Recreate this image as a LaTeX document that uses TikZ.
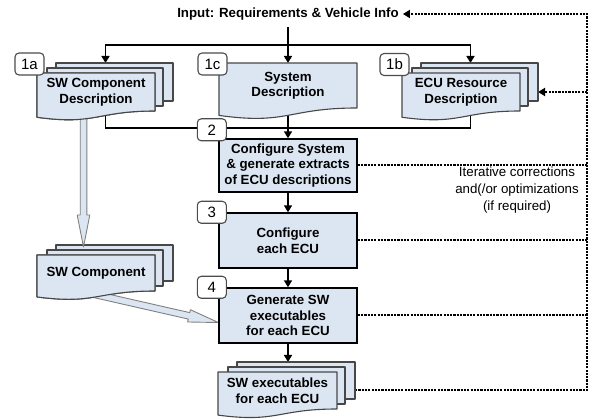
\documentclass[tikz,border=0pt]{standalone}
\usepackage{fontspec}
\setmainfont{Liberation Sans}
\usetikzlibrary{arrows.meta,calc}
\pgfdeclarelayer{background}
\pgfsetlayers{background,main}
\definecolor{paneblue}{RGB}{220,230,242}
\tikzset{
	txt/.style={font=\bfseries\fontsize{13.3}{15.5}\selectfont, align=center, inner sep=0pt},
	docnode/.style={txt, outer sep=0pt},
	docfront/.style={fill=paneblue, draw=black!72, line width=1.1pt, line join=round},
	stepbox/.style={txt, fill=paneblue, draw=black, line width=1.4pt, minimum width=138pt},
	tag/.style={draw=black!70, fill=white, rounded corners=4pt, line width=1.1pt, minimum width=29pt, minimum height=22pt, inner sep=0pt, font=\fontsize{15}{15}\selectfont},
	flow/.style={line width=1.6pt},
	fb/.style={line width=2pt, dash pattern=on 2.2pt off 1.1pt},
	fat/.style={fill=paneblue, draw=black!50, line width=0.9pt, line join=round}
}
\newcommand{\docshape}[1]{%
	\draw[docfront] (#1.north west) -- (#1.north east) -- (#1.south east)
		.. controls (#1.south) and ($(#1.south)!-0.38!(#1.north)$) ..
		($(#1.south west)!-0.165!(#1.north west)$) -- cycle;}
\newcommand{\docsheets}[1]{%
	\draw[docfront] ($(#1.north west)+(19,-10)$) rectangle ($(#1.south east)+(18,-10)$);
	\draw[docfront] ($(#1.north west)+(10,-5)$) rectangle ($(#1.south east)+(8,-5)$);}
\newcommand{\sheetmarks}[1]{%
	\coordinate (#1-back) at ($(#1.north)+(9.5,-10)$);
	\coordinate (#1-b3) at ($(#1.north east)+(18,-10)$);}
\newcommand{\fatarrow}[3]{%
	\coordinate (fa-h) at ($(#2)!#3!(#1)$);
	\filldraw[fat] ($(#1)!3.3pt!90:(#2)$) -- ($(fa-h)!3.3pt!90:(#2)$) -- ($(fa-h)!6.3pt!90:(#2)$) -- (#2)
		-- ($(fa-h)!6.3pt!-90:(#2)$) -- ($(fa-h)!3.3pt!-90:(#2)$) -- ($(#1)!3.3pt!-90:(#2)$) -- cycle;}
\begin{document}
\begin{tikzpicture}[x=1pt, y=-1pt, >={Triangle[length=7pt,width=8pt]}]
	\useasboundingbox (0,0) rectangle (597,419);
	\node[txt, inner xsep=4pt, inner ysep=7pt] (input) at (288,14) {Input: Requirements \& Vehicle Info};
	\node[docnode, minimum width=118pt, minimum height=38pt] (swcd) at (96,92) {SW Component\\Description};
	\node[docnode, minimum width=138pt, minimum height=45pt] (sysd) at (288,85.5) {System\\Description};
	\node[docnode, minimum width=118pt, minimum height=38pt] (ecud) at (461,92) {ECU Resource\\Description};
	\node[stepbox, minimum height=53pt] (cfgsys) at (288,165.5) {Configure System\\\& generate extracts\\of ECU descriptions};
	\node[stepbox, minimum height=55pt] (cfgecu) at (288,240.5) {Configure\\each ECU};
	\node[stepbox, minimum height=55pt] (gen) at (288,315.5) {Generate SW\\executables\\for each ECU};
	\node[docnode, minimum width=118pt, minimum height=36pt] (swc) at (96,273) {SW Component};
	\node[docnode, minimum width=119pt, minimum height=37pt] (swexe) at (277.5,390.5) {SW executables\\for each ECU};
	\node[font=\fontsize{13.3}{17}\selectfont, align=center, inner sep=0pt] (iter) at (517,190) {Iterative corrections\\and(/or optimizations\\(if required)};
	\node[tag] (t1a) at ($(swcd.north west)+(-7.5,-9)$) {1a};
	\node[tag] (t1c) at ($(sysd.north west)+(-6.5,1)$) {1c};
	\node[tag] (t1b) at ($(ecud.north west)+(-7.5,-8.5)$) {1b};
	\node[tag] (t2) at ($(cfgsys.north west)+(-6.5,-8.5)$) {2};
	\node[tag] (t3) at ($(cfgecu.north west)+(-6.5,0)$) {3};
	\node[tag] (t4) at ($(gen.north west)+(-6.5,0)$) {4};
	\sheetmarks{swcd}
	\sheetmarks{ecud}
	\sheetmarks{swc}
	\sheetmarks{swexe}
	\coordinate (split) at (288,45);
	\coordinate (join) at (288,128);
	\coordinate (railx) at (587,0);
	\coordinate (fa1s) at ($(swcd.south)+(-12.5,0)$);
	\coordinate (fa1t) at ($(fa1s |- swc-back)+(0,2)$);
	\coordinate (fa2s) at ($(swc.south)+(-3,3)$);
	\coordinate (fa2t) at ($(gen.west)+(0,7)$);
	\begin{pgfonlayer}{background}
		\draw[flow,->] (input.south) -- (sysd.north);
		\draw[flow,<->] (swcd-back) |- (split) -| (ecud-back);
		\draw[flow] (swcd.south -| swcd-back) |- (join) -| (ecud.south -| ecud-back);
		\draw[flow,->] (sysd.south) -- (cfgsys.north);
		\draw[flow,->] (cfgsys) -- (cfgecu);
		\draw[flow,->] (cfgecu) -- (gen);
		\draw[flow,->] (gen.south) -- (gen.south |- swexe-back);
		\draw[fb,->] (swexe.east -| swexe-b3) -| (input.east -| railx) -- (input.east);
		\draw[fb,->] (ecud.east -| railx) -- (ecud.east -| ecud-b3);
		\draw[fb] (cfgsys.east) -- (cfgsys.east -| railx);
		\draw[fb] (cfgecu.east) -- (cfgecu.east -| railx);
		\draw[fb] (gen.east) -- (gen.east -| railx);
		\docsheets{swcd}
		\docshape{swcd}
		\docshape{sysd}
		\docsheets{ecud}
		\docshape{ecud}
		\docsheets{swc}
		\docshape{swc}
		\docsheets{swexe}
		\docshape{swexe}
		\fatarrow{fa1s}{fa1t}{32pt}
		\fatarrow{fa2s}{fa2t}{30pt}
		\docshape{swcd}
		\docshape{swc}
	\end{pgfonlayer}
\end{tikzpicture}
\end{document}
